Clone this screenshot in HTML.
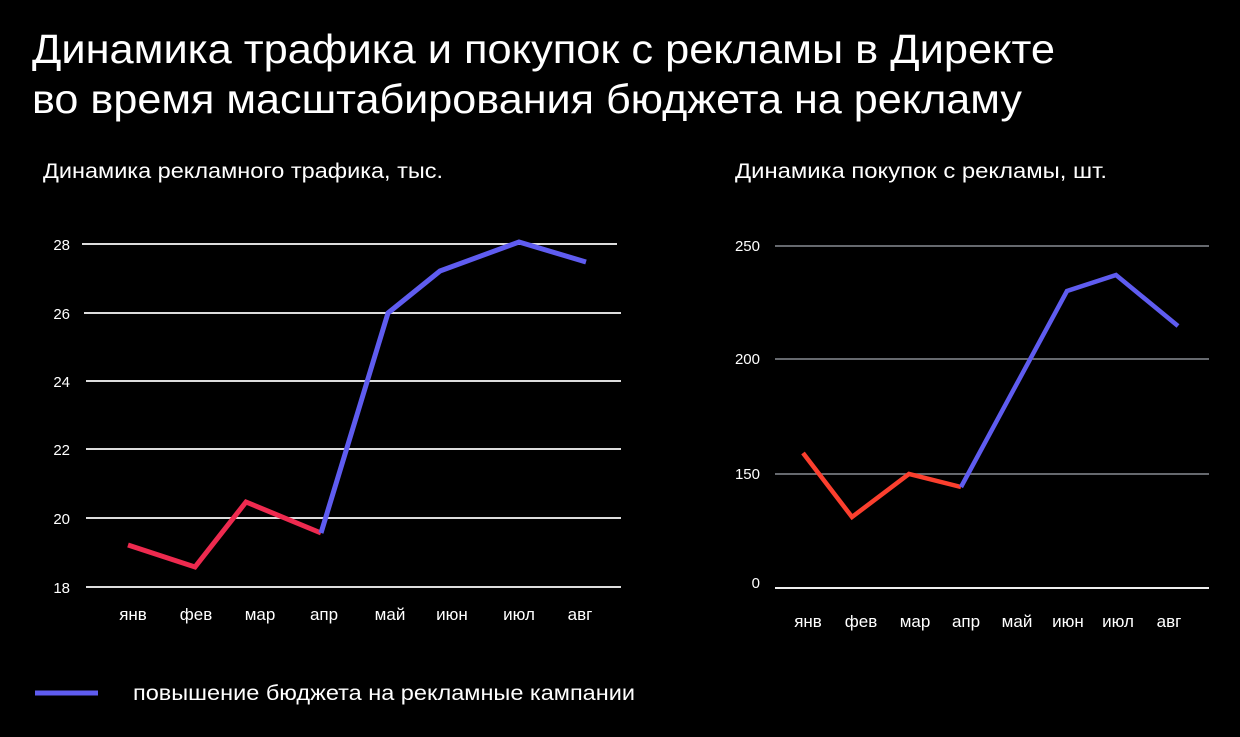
<!DOCTYPE html>
<html><head><meta charset="utf-8"><style>
body{margin:0;background:#000;width:1240px;height:737px;overflow:hidden;font-family:"Liberation Sans","DejaVu Sans",sans-serif;color:#fff}
svg{display:block}
</style></head><body>
<svg width="1240" height="737" xmlns="http://www.w3.org/2000/svg" font-family="Liberation Sans, DejaVu Sans, sans-serif" fill="#fff">
<text x="32" y="63" font-size="41" textLength="1023" lengthAdjust="spacingAndGlyphs">Динамика трафика и покупок с рекламы в Директе</text>
<text x="32" y="113" font-size="41" textLength="990" lengthAdjust="spacingAndGlyphs">во время масштабирования бюджета на рекламу</text>
<text x="43" y="178" font-size="21" textLength="400" lengthAdjust="spacingAndGlyphs">Динамика рекламного трафика, тыс.</text>
<text x="735" y="178" font-size="21" textLength="372" lengthAdjust="spacingAndGlyphs">Динамика покупок с рекламы, шт.</text>
<g stroke="#ddd" stroke-width="2">
<line x1="82" y1="244" x2="617" y2="244"/><line x1="84" y1="313" x2="621" y2="313"/>
<line x1="86" y1="381" x2="621" y2="381"/><line x1="86" y1="449" x2="621" y2="449"/>
<line x1="86" y1="518" x2="621" y2="518"/><line x1="86" y1="587" x2="621" y2="587"/>
</g>
<g font-size="15" text-anchor="end">
<text x="70" y="250">28</text><text x="70" y="319">26</text><text x="70" y="387">24</text>
<text x="70" y="455">22</text><text x="70" y="524">20</text><text x="70" y="593">18</text>
</g>
<g font-size="17" text-anchor="middle">
<text x="133" y="620">янв</text><text x="196" y="620">фев</text><text x="260" y="620">мар</text><text x="324" y="620">апр</text>
<text x="390" y="620">май</text><text x="452" y="620">июн</text><text x="519" y="620">июл</text><text x="580" y="620">авг</text>
</g>
<polyline points="128,545 195,567 246,502 321,533" fill="none" stroke="#ee2a4f" stroke-width="5"/>
<polyline points="321,533 388,313 440,271 519,242 586,262" fill="none" stroke="#5f5cf0" stroke-width="5"/>
<g stroke="#888c92" stroke-width="1.5">
<line x1="775" y1="246" x2="1209" y2="246"/><line x1="775" y1="359" x2="1209" y2="359"/><line x1="775" y1="474" x2="1209" y2="474"/>
</g>
<line x1="775" y1="588" x2="1209" y2="588" stroke="#eee" stroke-width="2"/>
<g font-size="15" text-anchor="end">
<text x="760" y="251">250</text><text x="760" y="364">200</text><text x="760" y="479">150</text><text x="760" y="588">0</text>
</g>
<g font-size="17" text-anchor="middle">
<text x="808" y="627">янв</text><text x="861" y="627">фев</text><text x="915" y="627">мар</text><text x="966" y="627">апр</text>
<text x="1017" y="627">май</text><text x="1068" y="627">июн</text><text x="1118" y="627">июл</text><text x="1169" y="627">авг</text>
</g>
<polyline points="803,453 852,517 909,474 961,487" fill="none" stroke="#fb3f2e" stroke-width="4.5"/>
<polyline points="961,487 1067,291 1116,275 1178,326" fill="none" stroke="#5f5cf0" stroke-width="4.5"/>
<line x1="35" y1="693" x2="98" y2="693" stroke="#5f5cf0" stroke-width="5"/>
<text x="133" y="700" font-size="21" textLength="502" lengthAdjust="spacingAndGlyphs">повышение бюджета на рекламные кампании</text>
</svg>
</body></html>
